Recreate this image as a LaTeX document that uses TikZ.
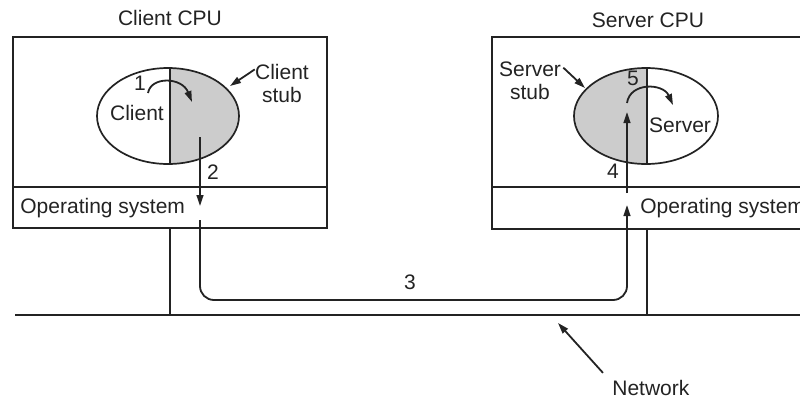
\documentclass[tikz,border=0pt]{standalone}
\usepackage{fontspec}
\setmainfont{Liberation Sans}
\usetikzlibrary{arrows.meta, positioning}
\definecolor{stubgray}{RGB}{204, 204, 204}
\definecolor{inkblack}{RGB}{35, 35, 35}
\newcommand{\rpcfont}{\fontsize{10.5}{11.5}\selectfont}

\tikzset{
  cpubox/.style={draw=inkblack, line width=0.85pt},
  lbl/.style={font=\rpcfont, text=inkblack, inner sep=0pt},
  callarrow/.style={draw=inkblack, line width=0.9pt, -{Triangle[length=5.5pt, width=3.4pt]}},
}

\begin{document}
\begin{tikzpicture}[x=0.5pt, y=-0.5pt]
  \useasboundingbox (0,0) rectangle (800,398);

  % Client machine
  \draw[cpubox] (13,37) rectangle (327,228);
  \draw[cpubox] (13,187) -- (327,187);
  \node[lbl] (clientcpu) at (170,18) {Client CPU};
  \node[lbl, anchor=west] (clientos) at (20,208) {Operating system};

  \begin{scope}
    \clip (170,60) rectangle (250,170);
    \fill[stubgray] (168,116) ellipse [x radius=71, y radius=48];
  \end{scope}
  \draw[cpubox] (168,116) ellipse [x radius=71, y radius=48];
  \draw[cpubox] (170,68) -- (170,164);

  \node[lbl] (client) at (137,113) {Client};
  \node[lbl, align=center] (cstublbl) at (282,83) {Client\\stub};
  \node[lbl] (step1) at (140,83) {1};
  \node[lbl] (step2) at (213,172) {2};

  % Server machine
  \draw[cpubox] (815,37) -- (492,37) -- (492,229) -- (815,229);
  \draw[cpubox] (492,187) -- (815,187);
  \node[lbl] (servercpu) at (648,20) {Server CPU};
  \node[lbl, anchor=west] (serveros) at (640,208) {Operating system};

  \begin{scope}
    \clip (560,60) rectangle (647,170);
    \fill[stubgray] (646,116) ellipse [x radius=72, y radius=48];
  \end{scope}
  \draw[cpubox] (646,116) ellipse [x radius=72, y radius=48];
  \draw[cpubox] (647,68) -- (647,164);

  \node[lbl] (server) at (680,125) {Server};
  \node[lbl, align=center] (sstublbl) at (530,81) {Server\\stub};
  \node[lbl] (step4) at (613,171) {4};
  \node[lbl] (step5) at (633,78) {5};

  % Network
  \coordinate (netleft) at (15,315);
  \coordinate (netright) at (815,315);
  \draw[cpubox] (netleft) -- (netright);
  \draw[cpubox] (170,228) -- (170,315);
  \draw[cpubox] (647,229) -- (647,315);
  \node[lbl, anchor=west] (network) at (612,388) {Network};
  \node[lbl] (step3) at (410,282) {3};

  % Call path
  \coordinate (c1s) at (148,93);
  \coordinate (c1e) at (192,102);
  \coordinate (c2s) at (200,137);
  \coordinate (c2e) at (200,206);
  \coordinate (p3a) at (200,220);
  \coordinate (p3mid) at (410,300);
  \coordinate (p3b) at (627,205);
  \coordinate (s4s) at (627,193);
  \coordinate (s4e) at (627,112);
  \coordinate (s5s) at (627,103);
  \coordinate (s5e) at (673,105);
  \coordinate (cstubedge) at (230,86);
  \coordinate (sstubedge) at (585,88);
  \coordinate (netpoint) at (558,323);

  \draw[callarrow] (c1s) .. controls (151,76) and (182,77) .. (c1e);
  \draw[callarrow] (c2s) -- (c2e);
  \draw[callarrow, rounded corners=7pt] (p3a) |- (p3mid) -| (p3b);
  \draw[callarrow] (s4s) -- (s4e);
  \draw[callarrow] (s5s) .. controls (630,82) and (663,83) .. (s5e);

  \draw[callarrow] ([yshift=-3pt]cstublbl.north west) -- (cstubedge);
  \draw[callarrow] ([xshift=1pt, yshift=-3pt]sstublbl.north east) -- (sstubedge);
  \draw[callarrow] ([xshift=-4.5pt, yshift=3.5pt]network.north west) -- (netpoint);
\end{tikzpicture}
\end{document}
